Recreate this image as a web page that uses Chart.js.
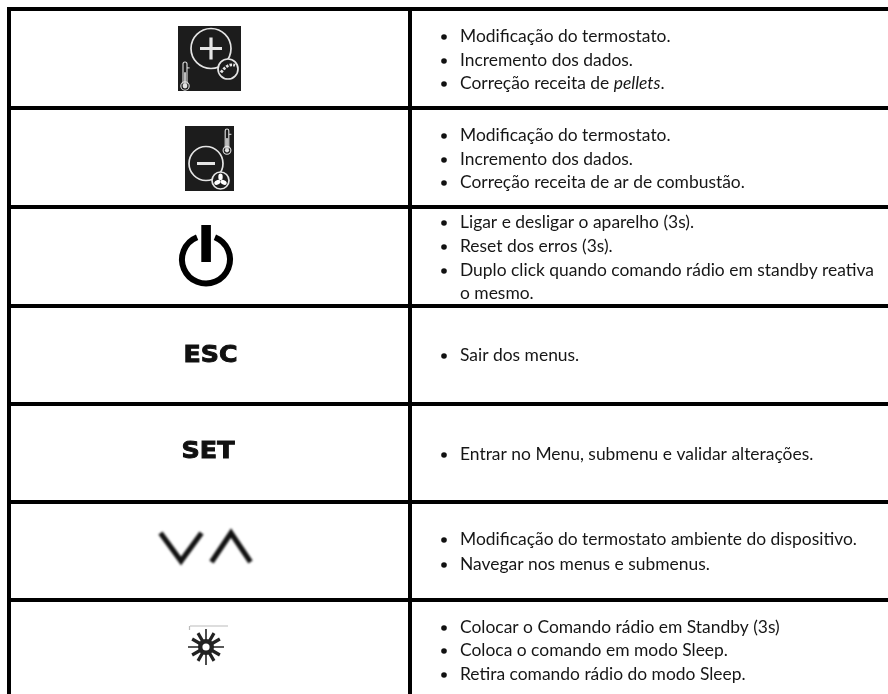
<!DOCTYPE html>
<html>
<head>
<meta charset="utf-8">
<title>Comando rádio</title>
<script src="https://cdn.jsdelivr.net/npm/chart.js@4"></script>
<style>
  html, body { margin: 0; padding: 0; background: #fff; }
  canvas { display: block; }
</style>
</head>
<body>
<canvas id="table" width="888" height="694"></canvas>
<script>
  // table rules, in picture units
  var ruleRows = [9, 108, 207, 306, 404, 502, 600];
  var ruleCols = [9, 410];
  var pageRight = 888;
  var pageBottom = 694;

  // one list per table row, wrapped the way the picture wraps them
  var row1Lines = ['Modificação do termostato.', 'Incremento dos dados.', 'Correção receita de |pellets|.'];
  var row2Lines = ['Modificação do termostato.', 'Incremento dos dados.', 'Correção receita de ar de combustão.'];
  var row3Lines = ['Ligar e desligar o aparelho (3s).', 'Reset dos erros (3s).', 'Duplo click quando comando rádio em standby reativa', 'o mesmo.'];
  var row4Lines = ['Sair dos menus.'];
  var row5Lines = ['Entrar no Menu, submenu e validar alterações.'];
  var row6Lines = ['Modificação do termostato ambiente do dispositivo.', 'Navegar nos menus e submenus.'];
  var row7Lines = ['Colocar o Comando rádio em Standby (3s)', 'Coloca o comando em modo Sleep.', 'Retira comando rádio do modo Sleep.'];

  var row1Base = [42, 66, 89];
  var row2Base = [141, 165, 188];
  var row3Base = [228, 252, 276, 299];
  var row4Base = [361];
  var row5Base = [460];
  var row6Base = [545, 570];
  var row7Base = [633, 656, 680];

  // lines that start with a bullet (the wrapped "o mesmo." does not)
  var noBullet = ['o mesmo.'];

  var bulletX = 444;
  var textX = 460;
  var bulletLift = 5;

  var iconNames = ['plus', 'minus', 'power', 'esc', 'set', 'arrows', 'sun'];
  var iconX = [210, 209.5, 206, 210.5, 208, 205.5, 206];
  var iconY = [58.5, 158.5, 259, 353, 449, 548, 647];

  var allLines = [row1Lines, row2Lines, row3Lines, row4Lines, row5Lines, row6Lines, row7Lines];
  var allBases = [row1Base, row2Base, row3Base, row4Base, row5Base, row6Base, row7Base];

  var TEXT = '#161616';
  var ICON_BG = '#1c1c1c';
  var ICON_FG = '#e4e4e4';
  var FONT = 'Lato, "Noto Sans", sans-serif';
  var FONT_SIZE = 17.43;

  // --- icons, drawn around their centre -------------------------------------

  function thermometer(ctx, x, top, h, w) {
    var r = w * 0.75;
    ctx.strokeStyle = ICON_FG;
    ctx.lineWidth = 1.1;
    ctx.beginPath();
    ctx.arc(x, top + w / 2, w / 2, Math.PI, 0);
    ctx.lineTo(x + w / 2, top + h - r * 1.6);
    ctx.moveTo(x - w / 2, top + w / 2);
    ctx.lineTo(x - w / 2, top + h - r * 1.6);
    ctx.stroke();
    ctx.beginPath();
    ctx.arc(x, top + h - r, r + 1.2, 0, Math.PI * 2);
    ctx.stroke();
    ctx.fillStyle = ICON_FG;
    ctx.beginPath();
    ctx.arc(x, top + h - r, r - 0.6, 0, Math.PI * 2);
    ctx.fill();
    ctx.fillRect(x - 0.8, top + h * 0.38, 1.6, h * 0.45);
    ctx.fillRect(x + w / 2, top + h * 0.2, 2.6, 1);
  }

  function badgeCircles(ctx, cx, cy, r, bx, by, br) {
    ctx.strokeStyle = ICON_FG;
    ctx.lineWidth = 1.7;
    ctx.beginPath();
    ctx.arc(cx, cy, r, 0, Math.PI * 2);
    ctx.stroke();
    ctx.fillStyle = ICON_BG;
    ctx.beginPath();
    ctx.arc(bx, by, br, 0, Math.PI * 2);
    ctx.fill();
    ctx.stroke();
  }

  function drawPlus(ctx, x, y) {
    ctx.fillStyle = ICON_BG;
    ctx.fillRect(x - 32, y - 32.5, 63, 65);
    badgeCircles(ctx, x + 1, y - 10, 20, x + 18, y + 10.5, 10);
    ctx.strokeStyle = ICON_FG;
    ctx.lineWidth = 3.2;
    ctx.beginPath();
    ctx.moveTo(x - 10, y - 10); ctx.lineTo(x + 12, y - 10);
    ctx.moveTo(x + 1, y - 21); ctx.lineTo(x + 1, y + 1);
    ctx.stroke();
    // auger in the small circle
    ctx.lineWidth = 2.8;
    ctx.setLineDash([2.6, 1.2]);
    ctx.beginPath();
    ctx.moveTo(x + 11, y + 14);
    ctx.quadraticCurveTo(x + 18, y + 4, x + 25, y + 7);
    ctx.stroke();
    ctx.setLineDash([]);
    thermometer(ctx, x - 25, y + 3.5, 27, 4);
  }

  function drawMinus(ctx, x, y) {
    ctx.fillStyle = ICON_BG;
    ctx.fillRect(x - 24.5, y - 32.5, 49, 65);
    badgeCircles(ctx, x - 3.5, y + 5, 17, x + 11, y + 22, 8.5);
    ctx.strokeStyle = ICON_FG;
    ctx.lineWidth = 3;
    ctx.beginPath();
    ctx.moveTo(x - 12.5, y + 5); ctx.lineTo(x + 5.5, y + 5);
    ctx.stroke();
    // fan blades
    ctx.fillStyle = '#fff';
    for (var i = 0; i < 3; i++) {
      var a = -Math.PI / 2 + i * Math.PI * 2 / 3;
      ctx.beginPath();
      ctx.ellipse(x + 11 + Math.cos(a) * 3.6, y + 22 + Math.sin(a) * 3.6, 3.3, 2.2, a, 0, Math.PI * 2);
      ctx.fill();
    }
    thermometer(ctx, x + 17.5, y - 29.5, 24, 3.6);
  }

  function drawPower(ctx, x, y) {
    ctx.strokeStyle = '#000';
    ctx.lineWidth = 6;
    ctx.beginPath();
    ctx.arc(x, y + 0.5, 24, -Math.PI / 2 + 0.38, -Math.PI / 2 - 0.38);
    ctx.stroke();
    ctx.fillStyle = '#000';
    ctx.fillRect(x - 4.7, y - 34, 9.6, 37);
  }

  function drawWord(ctx, word, x, y, width, height) {
    ctx.font = '900 24px "DejaVu Sans", sans-serif';
    ctx.textAlign = 'left';
    ctx.textBaseline = 'alphabetic';
    var m = ctx.measureText(word);
    ctx.save();
    ctx.filter = 'blur(0.7px)';
    ctx.translate(x - width / 2, y + height / 2);
    ctx.scale(width / m.width, height / 17.5);
    ctx.fillStyle = '#111';
    ctx.strokeStyle = '#111';
    ctx.lineWidth = 1;
    ctx.fillText(word, 0, 0);
    ctx.strokeText(word, 0, 0);
    ctx.restore();
  }

  function drawArrows(ctx, x, y) {
    ctx.strokeStyle = '#111';
    ctx.lineWidth = 5.2;
    ctx.lineJoin = 'miter';
    ctx.beginPath();
    ctx.moveTo(x - 45, y - 15); ctx.lineTo(x - 24.5, y + 13); ctx.lineTo(x - 4, y - 15);
    ctx.moveTo(x + 6, y + 14); ctx.lineTo(x + 25.5, y - 15); ctx.lineTo(x + 45, y + 14);
    ctx.stroke();
  }

  function drawSun(ctx, x, y) {
    var i, a;
    ctx.strokeStyle = '#bbb';
    ctx.lineWidth = 1.2;
    ctx.beginPath();
    ctx.moveTo(x - 16, y - 21); ctx.lineTo(x + 22, y - 21);
    ctx.moveTo(x - 16.5, y - 21); ctx.lineTo(x - 16.5, y - 17);
    ctx.stroke();
    ctx.strokeStyle = '#222';
    ctx.lineWidth = 1.6;
    ctx.beginPath();
    for (i = 0; i < 4; i++) {
      a = i * Math.PI / 2;
      ctx.moveTo(x, y); ctx.lineTo(x + Math.cos(a) * 18, y + Math.sin(a) * 18);
    }
    ctx.stroke();
    ctx.lineWidth = 3.2;
    ctx.beginPath();
    for (i = 0; i < 12; i++) {
      if (i % 3 === 0) continue;
      a = i * Math.PI / 6;
      ctx.moveTo(x, y); ctx.lineTo(x + Math.cos(a) * 16, y + Math.sin(a) * 16);
    }
    ctx.stroke();
    ctx.fillStyle = '#222';
    ctx.beginPath();
    ctx.arc(x, y, 8, 0, Math.PI * 2);
    ctx.fill();
    ctx.fillStyle = '#fff';
    ctx.beginPath();
    ctx.arc(x, y, 3.6, 0, Math.PI * 2);
    ctx.fill();
  }

  function drawIcon(ctx, name, x, y) {
    ctx.save();
    if (name === 'plus') { ctx.filter = 'blur(0.3px)'; drawPlus(ctx, x, y); }
    if (name === 'minus') { ctx.filter = 'blur(0.3px)'; drawMinus(ctx, x, y); }
    if (name === 'power') { ctx.filter = 'blur(0.6px)'; drawPower(ctx, x, y); }
    if (name === 'esc') drawWord(ctx, 'ESC', x, y, 54, 17);
    if (name === 'set') drawWord(ctx, 'SET', x, y, 53, 17);
    if (name === 'arrows') { ctx.filter = 'blur(0.8px)'; drawArrows(ctx, x, y); }
    if (name === 'sun') { ctx.filter = 'blur(0.6px)'; drawSun(ctx, x, y); }
    ctx.restore();
  }

  // --- plugin: bullet text and icons, placed with the chart's scales --------

  function drawLine(ctx, text, x, y) {
    // |word| marks italics
    var parts = text.split('|');
    parts.forEach(function (part, i) {
      ctx.font = (i % 2 ? 'italic ' : '') + FONT_SIZE + 'px ' + FONT;
      ctx.fillText(part, x, y);
      x += ctx.measureText(part).width;
    });
  }

  var tablePlugin = {
    id: 'tableContent',
    afterDatasetsDraw: function (chart) {
      var ctx = chart.ctx;
      var sx = chart.scales.x;
      var sy = chart.scales.y;
      ctx.save();
      ctx.filter = 'blur(0.25px)';
      ctx.fillStyle = TEXT;
      ctx.textAlign = 'left';
      ctx.textBaseline = 'alphabetic';
      allLines.forEach(function (lines, r) {
        lines.forEach(function (line, i) {
          drawLine(ctx, line, sx.getPixelForValue(textX), sy.getPixelForValue(allBases[r][i]));
        });
      });
      ctx.restore();
      iconNames.forEach(function (name, i) {
        drawIcon(ctx, name, sx.getPixelForValue(iconX[i]), sy.getPixelForValue(iconY[i]));
      });
    }
  };

  // --- chart ----------------------------------------------------------------

  var datasets = [];

  ruleRows.forEach(function (y) {
    datasets.push({ type: 'line', data: [{ x: ruleCols[0] - 2, y: y }, { x: pageRight, y: y }] });
  });
  ruleCols.forEach(function (x) {
    datasets.push({ type: 'line', data: [{ x: x, y: ruleRows[0] - 2 }, { x: x, y: pageBottom }] });
  });
  datasets.forEach(function (ds) {
    ds.borderColor = '#000';
    ds.borderWidth = 4;
    ds.pointRadius = 0;
    ds.borderCapStyle = 'butt';
    ds.clip = false;
  });

  var bulletPoints = [];
  allLines.forEach(function (lines, r) {
    lines.forEach(function (line, i) {
      if (noBullet.indexOf(line) < 0) bulletPoints.push({ x: bulletX, y: allBases[r][i] - bulletLift });
    });
  });
  datasets.push({
    type: 'scatter',
    data: bulletPoints,
    pointRadius: 2.8,
    pointBorderWidth: 0,
    pointBackgroundColor: '#111'
  });

  new Chart(document.getElementById('table'), {
    data: { datasets: datasets },
    options: {
      responsive: false,
      animation: false,
      events: [],
      layout: { padding: 0, autoPadding: false },
      plugins: { legend: { display: false }, tooltip: { enabled: false } },
      scales: {
        x: { type: 'linear', display: false, min: 0, max: pageRight },
        y: { type: 'linear', display: false, min: 0, max: pageBottom, reverse: true }
      }
    },
    plugins: [tablePlugin]
  });
</script>
</body>
</html>
